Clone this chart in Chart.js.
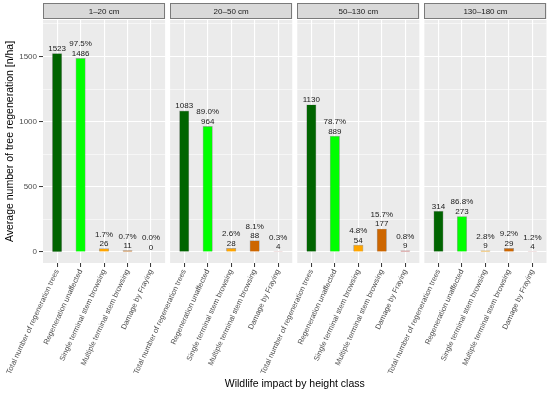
<!DOCTYPE html>
<html><head><meta charset="utf-8">
<script src="https://cdn.jsdelivr.net/npm/chart.js@4"></script>
<style>html,body{margin:0;padding:0;background:#fff}canvas{display:block}</style>
</head><body>
<canvas id="c" width="550" height="394"></canvas>
<script>
const categories = ["Total number of regeneration trees","Regeneration unaffected","Single terminal stem browsing","Multiple terminal stem browsing","Damage by Fraying"];
const heightClasses = ["1–20 cm","20–50 cm","50–130 cm","130–180 cm"];
const values1to20 = [1523, 1486, 26, 11, 0];
const values20to50 = [1083, 964, 28, 88, 4];
const values50to130 = [1130, 889, 54, 177, 9];
const values130to180 = [314, 273, 9, 29, 4];
const pct1to20 = [null, "97.5%", "1.7%", "0.7%", "0.0%"];
const pct20to50 = [null, "89.0%", "2.6%", "8.1%", "0.3%"];
const pct50to130 = [null, "78.7%", "4.8%", "15.7%", "0.8%"];
const pct130to180 = [null, "86.8%", "2.8%", "9.2%", "1.2%"];
const yTickValues = [0, 500, 1000, 1500];
const yMinorValues = [250, 750, 1250, 1750];
const colors = ["#006400", "#00FF00", "#FFA500", "#CD6600", "#CD5C5C"];

Chart.defaults.font.family = "'Liberation Sans', Arial, sans-serif";

const panelValues = [values1to20, values20to50, values50to130, values130to180];
const panelPct = [pct1to20, pct20to50, pct50to130, pct130to180];
const PERIOD = 5.413; // panel width (5.2) + gap, in x units
const points = [], bg = [], pctLabels = [];
panelValues.forEach((vals, k) => vals.forEach((v, i) => {
  points.push({x: k * PERIOD + i + 1, y: v});
  bg.push(colors[i]);
  pctLabels.push(panelPct[k][i]);
}));
const tickPos = points.map(p => p.x);

const panelPlugin = {
  id: 'panels',
  beforeDraw(chart) {
    const {ctx, chartArea, scales: {x}} = chart;
    ctx.save();
    heightClasses.forEach((name, k) => {
      const l = x.getPixelForValue(k * PERIOD + 0.4);
      const r = x.getPixelForValue(k * PERIOD + 5.6);
      ctx.fillStyle = '#EBEBEB';
      ctx.fillRect(l, chartArea.top, r - l, chartArea.bottom - chartArea.top);
      ctx.fillStyle = '#D9D9D9';
      ctx.fillRect(l, 3, r - l, 16);
      ctx.strokeStyle = '#7a7a7a';
      ctx.lineWidth = 1;
      ctx.strokeRect(Math.round(l) + 0.5, 3.5, Math.round(r - l) - 1, 15);
      ctx.fillStyle = '#1A1A1A';
      ctx.font = "8px 'Liberation Sans', Arial, sans-serif";
      ctx.textAlign = 'center';
      ctx.textBaseline = 'middle';
      ctx.fillText(name, (l + r) / 2, 11.5);
    });
    ctx.restore();
  }
};

const labelPlugin = {
  id: 'barLabels',
  afterDatasetsDraw(chart) {
    const {ctx} = chart;
    const meta = chart.getDatasetMeta(0);
    ctx.save();
    ctx.fillStyle = '#1a1a1a';
    ctx.font = "8px 'Liberation Sans', Arial, sans-serif";
    ctx.textAlign = 'center';
    ctx.textBaseline = 'alphabetic';
    meta.data.forEach((el, i) => {
      const v = points[i].y;
      ctx.fillText(String(v), el.x, el.y - 2.5);
      if (pctLabels[i]) ctx.fillText(pctLabels[i], el.x, el.y - 12);
    });
    ctx.restore();
  }
};

new Chart(document.getElementById('c'), {
  type: 'bar',
  data: {
    datasets: [{
      data: points,
      backgroundColor: bg,
      borderColor: 'rgba(0,0,0,0.3)',
      borderWidth: 0.7,
      barThickness: 9.5
    }]
  },
  plugins: [panelPlugin, labelPlugin],
  options: {
    responsive: false,
    animation: false,
    events: [],
    layout: {padding: {left: 0, right: 3.5, top: 20, bottom: 0}},
    plugins: {legend: {display: false}, tooltip: {enabled: false}},
    scales: {
      x: {
        type: 'linear',
        offset: false,
        min: 0.4,
        max: 3 * PERIOD + 5.6,
        afterBuildTicks: s => { s.ticks = tickPos.map(v => ({value: v})); },
        afterFit: s => { s.height = 131; s.paddingLeft = 0; s.paddingRight = 0; },
        border: {display: false},
        grid: {offset: false, color: '#FFFFFF', lineWidth: 1.1, tickLength: 4, tickColor: '#333333', tickWidth: 1},
        ticks: {
          autoSkip: false, minRotation: 65, maxRotation: 65, padding: 1,
          color: '#4D4D4D', font: {size: 7.5},
          callback: (v, i) => categories[i % 5]
        },
        title: {display: true, text: 'Wildlife impact by height class', color: '#000', font: {size: 10.5}, padding: {top: 5, bottom: 4}}
      },
      y: {
        min: -84,
        max: 1780,
        afterBuildTicks: s => { s.ticks = yTickValues.concat(yMinorValues).sort((a,b)=>a-b).map(v => ({value: v})); },
        afterFit: s => { s.width = 43; s.paddingTop = 0; s.paddingBottom = 0; },
        border: {display: false},
        grid: {
          color: '#FFFFFF',
          lineWidth: c => (c.tick && yTickValues.includes(c.tick.value)) ? 1.1 : 0.55,
          tickLength: 4,
          tickWidth: 1,
          tickColor: c => (c.tick && yTickValues.includes(c.tick.value)) ? '#333333' : 'rgba(0,0,0,0)'
        },
        ticks: {
          padding: 2, color: '#4D4D4D', font: {size: 8},
          callback: v => yTickValues.includes(v) ? String(v) : ''
        },
        title: {display: true, text: 'Average number of tree regeneration [n/ha]', color: '#000', font: {size: 10.5}, padding: {top: 4, bottom: 2}}
      }
    }
  }
});
</script>
</body></html>
